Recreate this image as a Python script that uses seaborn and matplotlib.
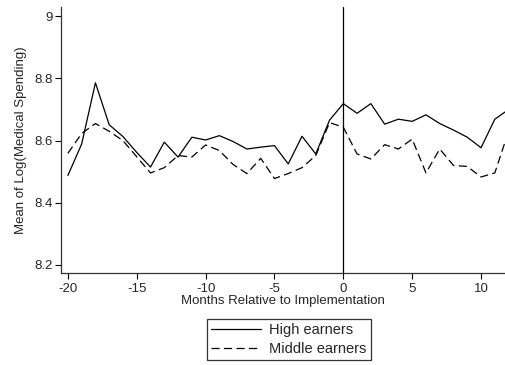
import matplotlib
matplotlib.use("Agg")
import matplotlib.pyplot as plt
import pandas as pd
import seaborn as sns

MONTHS = list(range(-20, 13))

HIGH_EARNERS = [
    8.488, 8.589, 8.786, 8.651, 8.613, 8.562, 8.515, 8.595, 8.547, 8.611,
    8.602, 8.616, 8.597, 8.573, 8.579, 8.584, 8.525, 8.614, 8.557, 8.666,
    8.719, 8.688, 8.719, 8.653, 8.669, 8.662, 8.683, 8.655, 8.634, 8.611,
    8.577, 8.669, 8.700,
]

MIDDLE_EARNERS = [
    8.559, 8.623, 8.655, 8.630, 8.600, 8.548, 8.496, 8.513, 8.552, 8.547,
    8.586, 8.568, 8.523, 8.494, 8.543, 8.478, 8.494, 8.513, 8.552, 8.658,
    8.643, 8.557, 8.541, 8.587, 8.573, 8.605, 8.496, 8.573, 8.520, 8.517,
    8.483, 8.496, 8.630,
]

SERIES = ["High earners", "Middle earners"]
X_TICKS = [-20, -15, -10, -5, 0, 5, 10]
Y_TICKS = [8.2, 8.4, 8.6, 8.8, 9.0]
Y_TICK_LABELS = ["8.2", "8.4", "8.6", "8.8", "9"]

df = pd.concat([
    pd.DataFrame({"month": MONTHS, "value": HIGH_EARNERS, "group": SERIES[0]}),
    pd.DataFrame({"month": MONTHS, "value": MIDDLE_EARNERS, "group": SERIES[1]}),
])

sns.set_style("ticks")
plt.rcParams["font.family"] = ["Liberation Sans", "DejaVu Sans"]
plt.rcParams["font.size"] = 9.5
plt.rcParams["axes.unicode_minus"] = False

fig = plt.figure(figsize=(5.05, 3.65), dpi=100)
ax = fig.add_axes([61 / 505, 92 / 365, 444 / 505, 266 / 365])

sns.lineplot(
    data=df, x="month", y="value", style="group",
    style_order=SERIES, dashes={SERIES[0]: "", SERIES[1]: (6.5, 3.5)},
    color="black", linewidth=0.9, ax=ax, legend=True,
)
ax.axvline(0, color="black", linewidth=0.9)

ax.set_xlim(-20.5, 11.74)
ax.set_ylim(8.174, 9.03)
ax.set_xticks(X_TICKS)
ax.set_xticklabels([str(t) for t in X_TICKS])
ax.set_yticks(Y_TICKS)
ax.set_yticklabels(Y_TICK_LABELS)
ax.tick_params(axis="both", length=4, width=0.8, labelsize=9.5, color="black")
ax.tick_params(axis="x", pad=3)
ax.tick_params(axis="y", pad=2)
ax.set_xlabel("Months Relative to Implementation", fontsize=9.5, labelpad=0)
ax.set_ylabel("Mean of Log(Medical Spending)", fontsize=9.5, labelpad=5)
sns.despine(ax=ax)
for s in ("left", "bottom"):
    ax.spines[s].set_linewidth(0.9)
    ax.spines[s].set_color("#333333")

handles, labels = ax.get_legend_handles_labels()
ax.get_legend().remove()
leg = fig.legend(
    handles, labels, loc="center", bbox_to_anchor=(289 / 505, 1 - 339.5 / 365),
    frameon=True, fancybox=False, edgecolor="black", fontsize=10.5,
    handlelength=3.4, borderpad=0.3, labelspacing=0.3, handletextpad=0.6,
    borderaxespad=0,
)
leg.get_frame().set_linewidth(0.9)
for line in leg.get_lines():
    line.set_color("black")
    line.set_linewidth(0.9)

fig.savefig("out.png", dpi=100)
